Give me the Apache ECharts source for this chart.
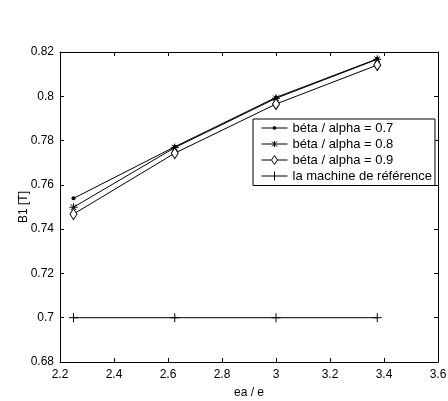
<!DOCTYPE html>
<html>
<head>
<meta charset="utf-8">
<script src="https://cdn.jsdelivr.net/npm/echarts@6/dist/echarts.min.js"></script>
<style>
html,body{margin:0;padding:0;background:#fff;}
#c{width:448px;height:401px;}
</style>
</head>
<body>
<div id="c"></div>
<script>
var xValues = [2.25, 2.625, 3.0, 3.375];
var seriesNames = ['béta / alpha = 0.7', 'béta / alpha = 0.8', 'béta / alpha = 0.9', 'la machine de référence'];
var s07 = [0.7539, 0.7772, 0.7995, 0.8169];
var s08 = [0.7499, 0.7768, 0.7991, 0.8167];
var s09 = [0.7468, 0.7743, 0.7965, 0.8141];
var sRef = [0.70, 0.70, 0.70, 0.70];
var xTitle = 'ea / e';
var yTitle = 'B1 [T]';

function pairs(ys){ return xValues.map(function(x,i){ return [x, ys[i]]; }); }

var FONT = 'Liberation Sans, Arial, sans-serif';
var plusPath = 'path://M0,-10L0,10M-10,0L10,0';
var starPath = 'path://M0,-10L0,10M-10,0L10,0M-7,-7L7,7M-7,7L7,-7';

// legend icons drawn in a 26 x 10 box
var BOX = 'M0,0M26,10';
var icon07 = 'path://' + BOX + 'M0,5L26,5M11.6,5A1.4,1.4 0 1,0 14.4,5A1.4,1.4 0 1,0 11.6,5Z';
var icon08 = 'path://' + BOX + 'M0,5L26,5M13,2L13,8M10.5,2.5L15.5,7.5M10.5,7.5L15.5,2.5';
var icon09 = 'path://' + BOX + 'M0,5L10,5M16,5L26,5M13,0.5L16,5L13,9.5L10,5Z';
var iconRef = 'path://' + BOX + 'M0,5L26,5M13,0.5L13,9.5';

function lineSeries(name, data, symbol, size, fill, bw){
  return {
    name: name, type: 'line', data: pairs(data),
    symbol: symbol, symbolSize: size, showSymbol: true,
    lineStyle: {color: '#000', width: 1},
    itemStyle: {color: fill, borderColor: '#000', borderWidth: bw},
    emphasis: {disabled: true},
    animation: false, z: 3
  };
}

var chart = echarts.init(document.getElementById('c'));
var axisCommon = {
  axisLine: {show: true, onZero: false, lineStyle: {color: '#000', width: 1}},
  axisTick: {show: true, inside: true, length: 4, lineStyle: {color: '#000'}},
  splitLine: {show: false}
};
chart.setOption({
  backgroundColor: '#fff',
  animation: false,
  grid: {left: 60, top: 52, right: 10, bottom: 39, containLabel: false, outerBoundsMode: 'none'},
  legend: {
    orient: 'vertical',
    left: 253, top: 119,
    padding: [2, 3, 2, 6],
    itemGap: 1.5,
    itemWidth: 26, itemHeight: 10,
    symbolKeepAspect: false,
    borderColor: '#000', borderWidth: 1, backgroundColor: '#fff', borderRadius: 0,
    textStyle: {fontFamily: FONT, fontSize: 13, lineHeight: 14, color: '#000'},
    data: [
      {name: seriesNames[0], icon: icon07, itemStyle: {color: '#000', borderColor: '#000', borderWidth: 1}},
      {name: seriesNames[1], icon: icon08, itemStyle: {color: 'none', borderColor: '#000', borderWidth: 1}},
      {name: seriesNames[2], icon: icon09, itemStyle: {color: '#fff', borderColor: '#000', borderWidth: 1}},
      {name: seriesNames[3], icon: iconRef, itemStyle: {color: 'none', borderColor: '#000', borderWidth: 1}}
    ]
  },
  xAxis: [
    Object.assign({type: 'value', min: 2.2, max: 3.6, interval: 0.2, position: 'bottom',
      name: xTitle, nameLocation: 'middle', nameGap: 25, nameMoveOverlap: false,
      nameTextStyle: {fontFamily: FONT, fontSize: 12, color: '#000'},
      axisLabel: {fontFamily: FONT, fontSize: 12, color: '#000', margin: 7}}, axisCommon),
    Object.assign({type: 'value', min: 2.2, max: 3.6, interval: 0.2, position: 'top',
      axisLabel: {show: false}}, axisCommon)
  ],
  yAxis: [
    Object.assign({type: 'value', min: 0.68, max: 0.82, interval: 0.02, position: 'left',
      name: yTitle, nameLocation: 'middle', nameGap: 30, nameRotate: 90, nameMoveOverlap: false,
      nameTextStyle: {fontFamily: FONT, fontSize: 12, color: '#000'},
      axisLabel: {fontFamily: FONT, fontSize: 12, color: '#000', margin: 6}}, axisCommon),
    Object.assign({type: 'value', min: 0.68, max: 0.82, interval: 0.02, position: 'right',
      axisLabel: {show: false}}, axisCommon)
  ],
  series: [
    lineSeries(seriesNames[0], s07, 'circle', 4, '#000', 0),
    lineSeries(seriesNames[1], s08, starPath, 8, 'none', 1),
    lineSeries(seriesNames[2], s09, 'diamond', [7, 11], '#fff', 1),
    lineSeries(seriesNames[3], sRef, plusPath, 9, 'none', 1)
  ]
});
</script>
</body>
</html>
